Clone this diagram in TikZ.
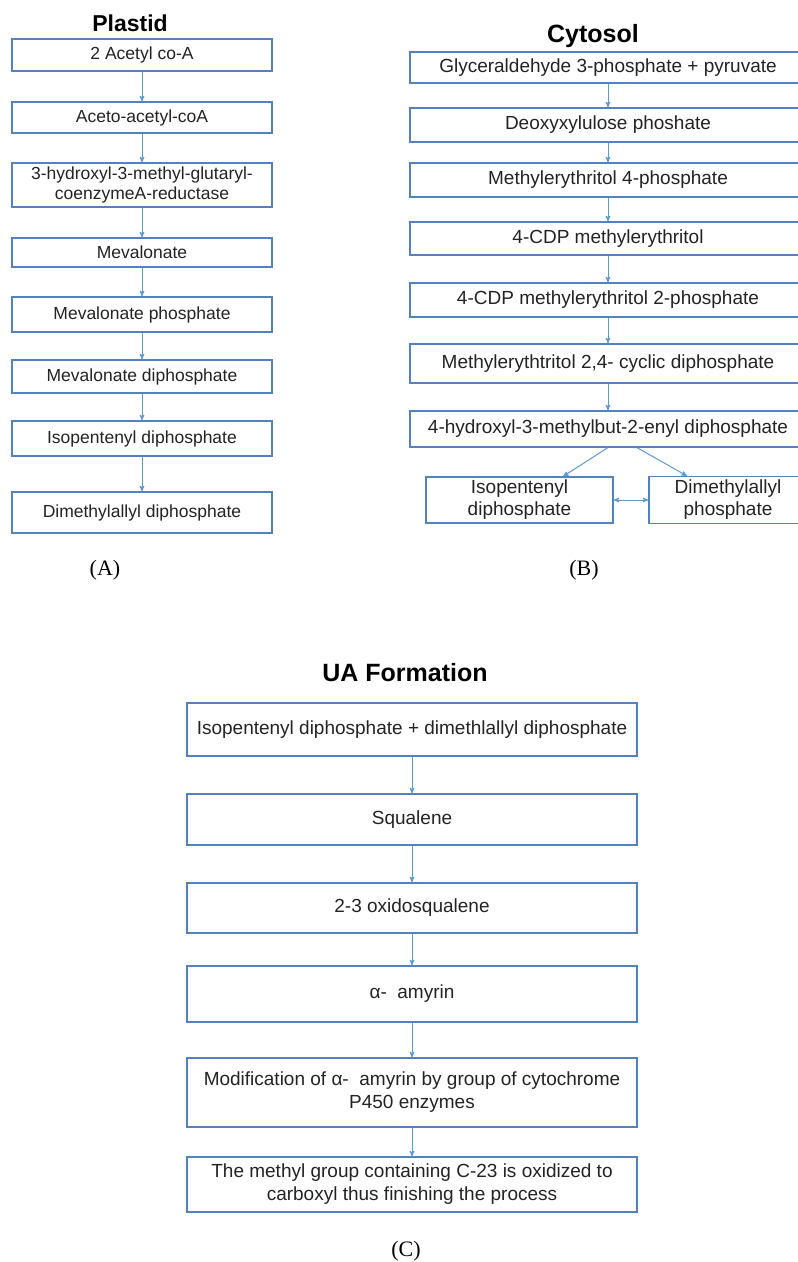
\documentclass[tikz,border=0pt]{standalone}
\usepackage{fontspec}
\setmainfont{Liberation Sans}
\newfontfamily\capfont{Liberation Serif}
\usepackage{tikz}
\usetikzlibrary{arrows,positioning}
\definecolor{boxblue}{RGB}{84,130,190}
\definecolor{linkblue}{RGB}{91,155,213}
\definecolor{inkgray}{RGB}{35,35,35}
\tikzset{
  stepbox/.style={draw=boxblue, line width=1.1pt, rectangle, inner sep=0pt, align=center, text=inkgray},
  plastidbox/.style={stepbox, minimum width=260pt, font=\fontsize{17.5}{20}\selectfont},
  cytobox/.style={stepbox, minimum width=396pt, font=\fontsize{19}{22}\selectfont},
  uabox/.style={stepbox, minimum width=450pt, font=\fontsize{19}{23}\selectfont},
  heading/.style={font=\bfseries\fontsize{25}{30}\selectfont, text=black},
  panel/.style={font=\capfont\fontsize{22}{26}\selectfont, text=black},
  flow/.style={->, draw=linkblue, line width=1pt}
}

\begin{document}
\begin{tikzpicture}[x=1pt, y=-1pt, >=stealth']
  \useasboundingbox (0, 0) rectangle (798, 1262);
  \clip (0, 0) rectangle (798, 1262);

  % plastid route
  \node[heading, font=\bfseries\fontsize{23}{28}\selectfont] (plastid) at (130, 23) {Plastid};
  \node[plastidbox, minimum height=32pt] (acetyl) at (142, 55) {2 Acetyl co-A};
  \node[plastidbox, minimum height=31pt] (aceto) at (142, 117.5) {Aceto-acetyl-coA};
  \node[plastidbox, minimum height=44pt] (hmg) at (142, 185) {3-hydroxyl-3-methyl-glutaryl-\\coenzymeA-reductase};
  \node[plastidbox, minimum height=29pt] (mva) at (142, 252.5) {Mevalonate};
  \node[plastidbox, minimum height=35pt] (mvap) at (142, 314.5) {Mevalonate phosphate};
  \node[plastidbox, minimum height=33pt] (mvapp) at (142, 376.5) {Mevalonate diphosphate};
  \node[plastidbox, minimum height=35pt] (ippA) at (142, 438.5) {Isopentenyl diphosphate};
  \node[plastidbox, minimum height=41pt] (dmappA) at (142, 512.5) {Dimethylallyl diphosphate};
  \node[panel] (labA) at (105, 570) {(A)};

  \path (acetyl) edge[flow] (aceto);
  \path (aceto) edge[flow] (hmg);
  \path (hmg) edge[flow] (mva);
  \path (mva) edge[flow] (mvap);
  \path (mvap) edge[flow] (mvapp);
  \path (mvapp) edge[flow] (ippA);
  \path (ippA) edge[flow] (dmappA);

  % cytosol route
  \node[heading] (cytosol) at (593, 36) {Cytosol};
  \node[cytobox, minimum height=31pt] (gap) at (608, 67.5) {Glyceraldehyde 3-phosphate + pyruvate};
  \node[cytobox, minimum height=34pt] (dxp) at (608, 125) {Deoxyxylulose phoshate};
  \node[cytobox, minimum height=34pt] (mep) at (608, 180) {Methylerythritol 4-phosphate};
  \node[cytobox, minimum height=33pt] (cdpme) at (608, 238.5) {4-CDP methylerythritol};
  \node[cytobox, minimum height=34pt] (cdpmep) at (608, 300) {4-CDP methylerythritol 2-phosphate};
  \node[cytobox, minimum height=39pt] (mecpp) at (608, 363.5) {Methylerythtritol 2,4- cyclic diphosphate};
  \node[cytobox, minimum height=36pt] (hmbpp) at (608, 429) {4-hydroxyl-3-methylbut-2-enyl diphosphate};
  \node[stepbox, font=\fontsize{19}{22}\selectfont, minimum width=187pt, minimum height=46pt] (ippB) at (519.5, 500) {Isopentenyl\\diphosphate};
  \node[stepbox, font=\fontsize{19}{22}\selectfont, minimum width=158pt, minimum height=47pt] (dmapB) at (728, 500) {Dimethylallyl\\phosphate};
  \node[panel] (labB) at (584, 570) {(B)};

  \path (gap) edge[flow] (dxp);
  \path (dxp) edge[flow] (mep);
  \path (mep) edge[flow] (cdpme);
  \path (cdpme) edge[flow] (cdpmep);
  \path (cdpmep) edge[flow] (mecpp);
  \path (mecpp) edge[flow] (hmbpp);
  \path (hmbpp.south) edge[flow] ([xshift=43.5pt]ippB.north);
  \path ([xshift=29pt]hmbpp.south) edge[flow] ([xshift=-41pt]dmapB.north);
  \path (ippB) edge[flow, <->] (dmapB);

  % UA formation
  \node[heading] (uaform) at (405, 673) {UA Formation};
  \node[uabox, minimum height=53pt] (ipdm) at (412, 729.5) {Isopentenyl diphosphate + dimethlallyl diphosphate};
  \node[uabox, minimum height=51pt] (squal) at (412, 819.5) {Squalene};
  \node[uabox, minimum height=50pt] (oxsq) at (412, 908) {2-3 oxidosqualene};
  \node[uabox, minimum height=56pt] (amy) at (412, 994) {α-~~amyrin};
  \node[uabox, minimum height=69pt] (p450) at (412, 1092.5) {Modification of α-~~amyrin by group of cytochrome\\P450 enzymes};
  \node[uabox, minimum height=55pt] (carbox) at (412, 1184.5) {The methyl group containing C-23 is oxidized to\\carboxyl thus finishing the process};
  \node[panel] (labC) at (406, 1251) {(C)};

  \path (ipdm) edge[flow] (squal);
  \path (squal) edge[flow] (oxsq);
  \path (oxsq) edge[flow] (amy);
  \path (amy) edge[flow] (p450);
  \path (p450) edge[flow] (carbox);
\end{tikzpicture}
\end{document}
